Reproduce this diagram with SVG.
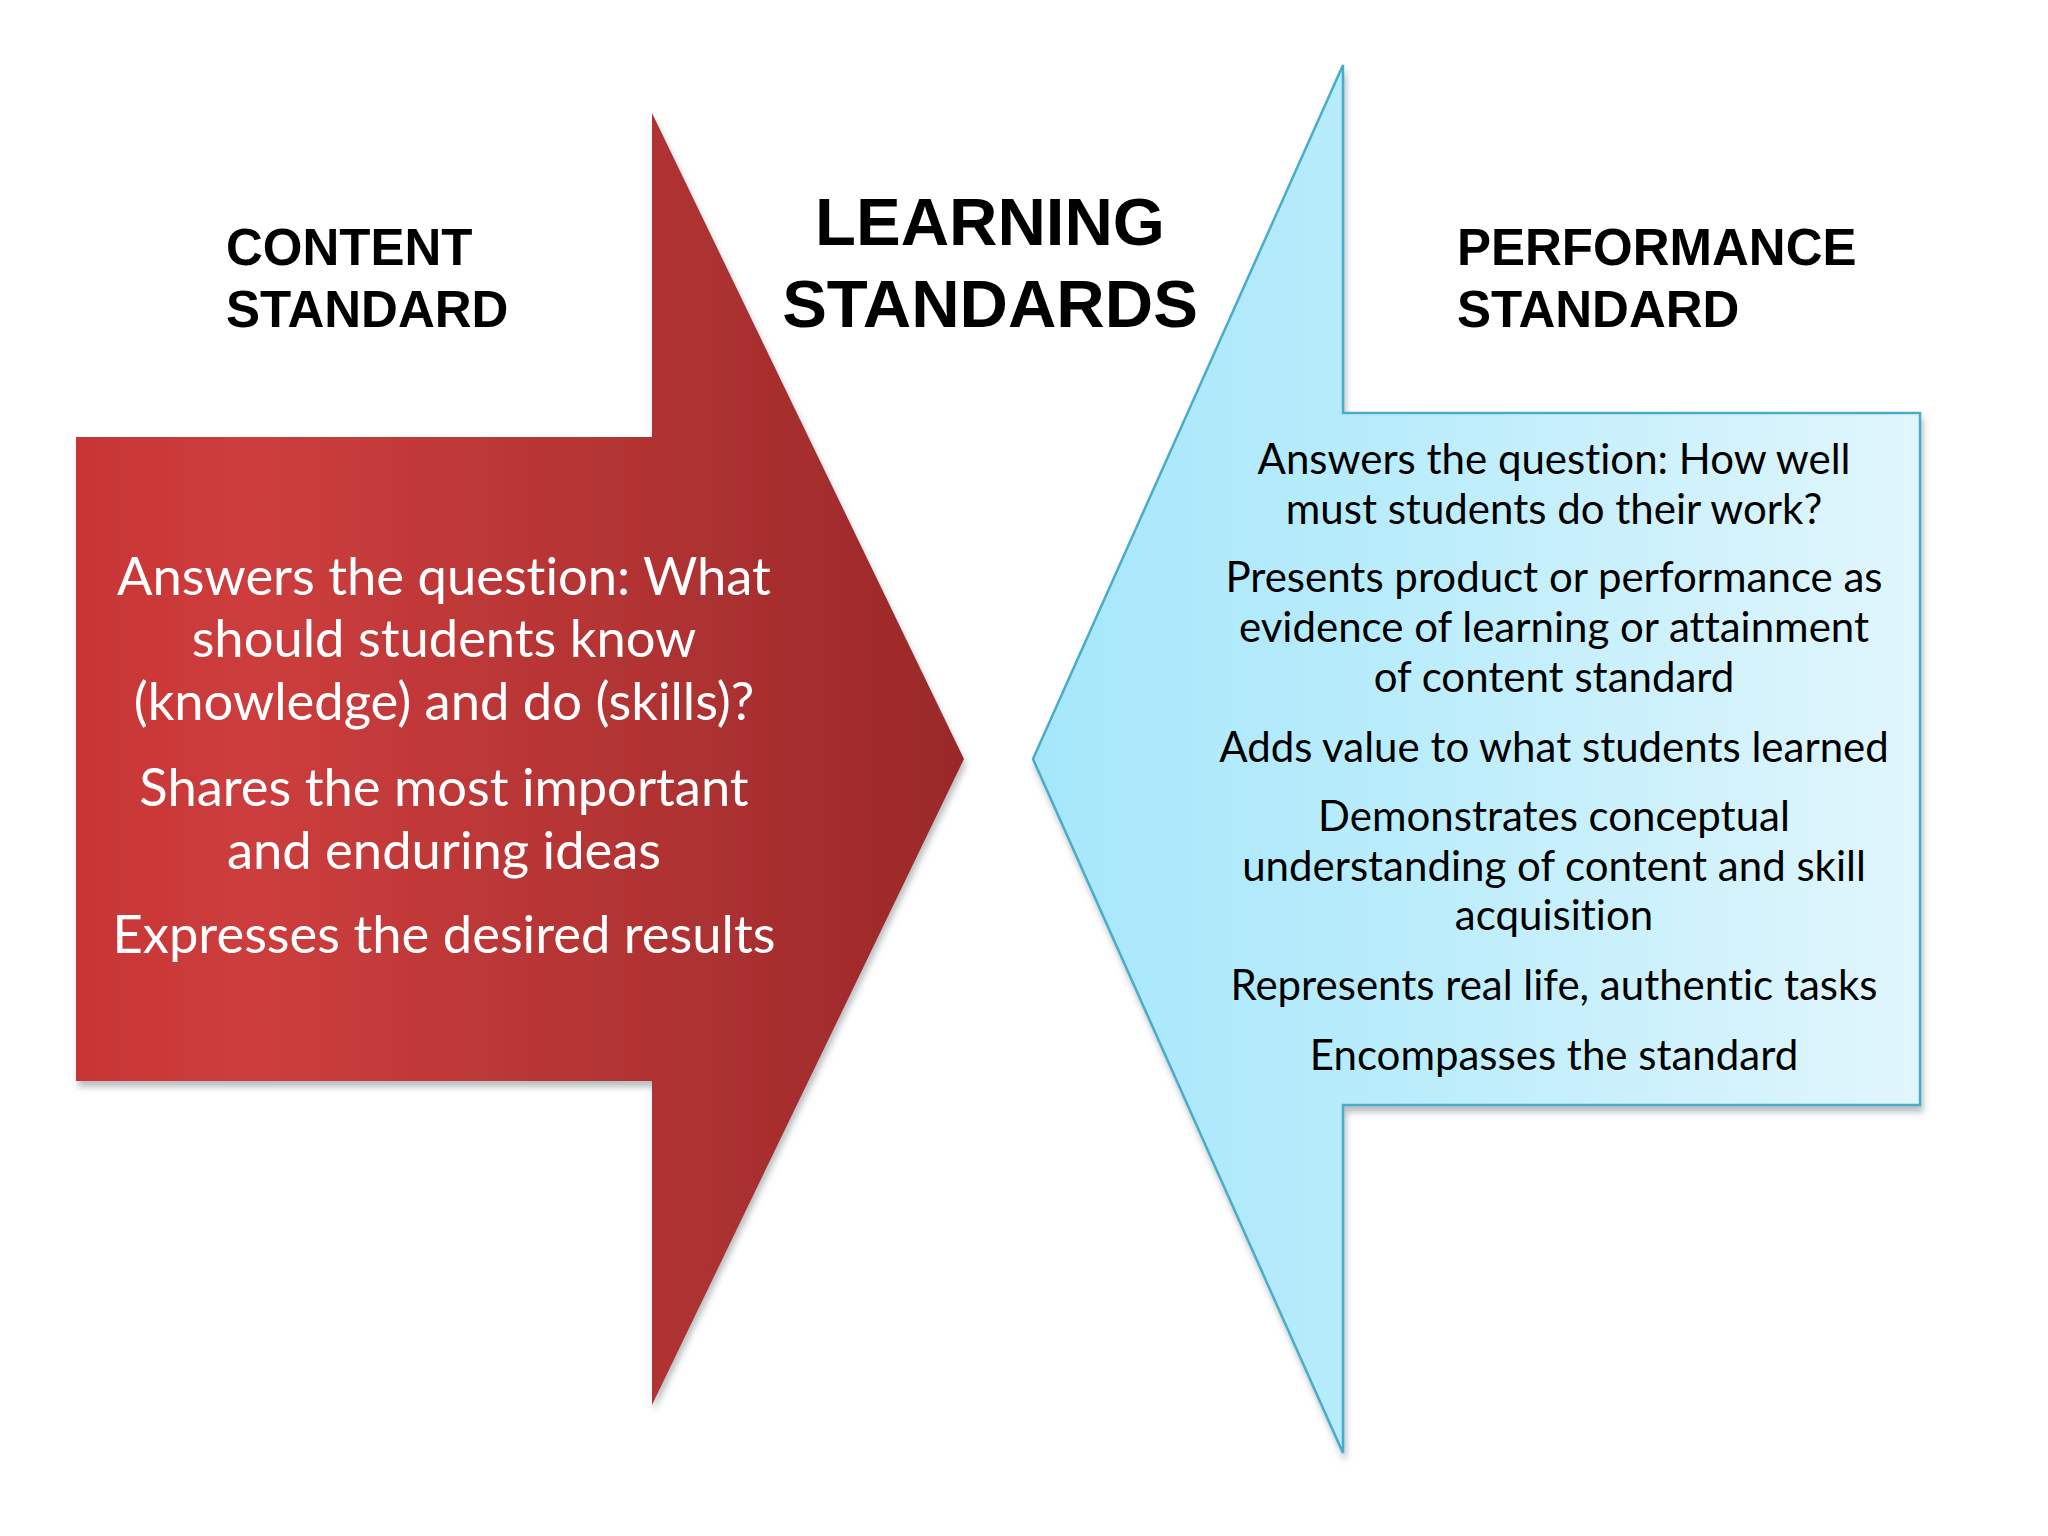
<svg xmlns="http://www.w3.org/2000/svg" width="2048" height="1536" viewBox="0 0 2048 1536">
<defs>
<linearGradient id="redGrad" x1="76" y1="0" x2="964" y2="0" gradientUnits="userSpaceOnUse">
<stop offset="0" stop-color="#c83535"/>
<stop offset="0.2" stop-color="#cd3d3d"/>
<stop offset="0.6" stop-color="#b43434"/>
<stop offset="1" stop-color="#9a2829"/>
</linearGradient>
<linearGradient id="blueGrad" x1="1033" y1="0" x2="1920" y2="0" gradientUnits="userSpaceOnUse">
<stop offset="0" stop-color="#a6e7fb"/>
<stop offset="0.4" stop-color="#b9ecfb"/>
<stop offset="1" stop-color="#e1f6fc"/>
</linearGradient>
<filter id="shadow" x="-5%" y="-5%" width="110%" height="110%">
<feDropShadow dx="2" dy="6" stdDeviation="3" flood-color="#808890" flood-opacity="0.55"/>
</filter>
<style>
.title{font-family:"Liberation Sans",Arial,sans-serif;font-weight:bold;fill:#000;}
.h{font-size:51px;}
.big{font-size:67px;text-anchor:middle;}
.ltxt{font-family:Lato,"Open Sans",sans-serif;font-size:52.5px;fill:#fff;text-anchor:middle;font-variant-ligatures:none;}
.rtxt{font-family:Lato,"Open Sans",sans-serif;font-size:42px;fill:#000;text-anchor:middle;font-variant-ligatures:none;}
</style>
</defs>
<rect width="2048" height="1536" fill="#fff"/>

<g id="content-standard">
<path d="M76 437 L652 437 L652 113 L964 759 L652 1405 L652 1081 L76 1081 Z" fill="url(#redGrad)" filter="url(#shadow)"/>
<text class="ltxt" x="444" y="595">Answers the question: What</text>
<text class="ltxt" x="444" y="657">should students know</text>
<text class="ltxt" x="444" y="720">(knowledge) and do (skills)?</text>
<text class="ltxt" x="444" y="806">Shares the most important</text>
<text class="ltxt" x="444" y="869">and enduring ideas</text>
<text class="ltxt" x="444" y="953">Expresses the desired results</text>
</g>

<g id="performance-standard">
<path d="M1920 413 L1343 413 L1343 65 L1033 759 L1343 1453 L1343 1105 L1920 1105 Z" fill="url(#blueGrad)" stroke="#4aacca" stroke-width="2.5" filter="url(#shadow)"/>
<text class="rtxt" x="1554" y="474">Answers the question: How well</text>
<text class="rtxt" x="1554" y="524">must students do their work?</text>
<text class="rtxt" x="1554" y="592">Presents product or performance as</text>
<text class="rtxt" x="1554" y="642">evidence of learning or attainment</text>
<text class="rtxt" x="1554" y="692">of content standard</text>
<text class="rtxt" x="1554" y="762">Adds value to what students learned</text>
<text class="rtxt" x="1554" y="831">Demonstrates conceptual</text>
<text class="rtxt" x="1554" y="881">understanding of content and skill</text>
<text class="rtxt" x="1554" y="930">acquisition</text>
<text class="rtxt" x="1554" y="1000">Represents real life, authentic tasks</text>
<text class="rtxt" x="1554" y="1070">Encompasses the standard</text>
</g>

<g id="labels">
<text class="title h" x="226" y="265">CONTENT</text>
<text class="title h" x="226" y="327">STANDARD</text>
<text class="title big" x="990" y="245">LEARNING</text>
<text class="title big" x="990" y="327">STANDARDS</text>
<text class="title h" x="1457" y="265">PERFORMANCE</text>
<text class="title h" x="1457" y="327">STANDARD</text>
</g>

<g id="connectors"/>
</svg>
